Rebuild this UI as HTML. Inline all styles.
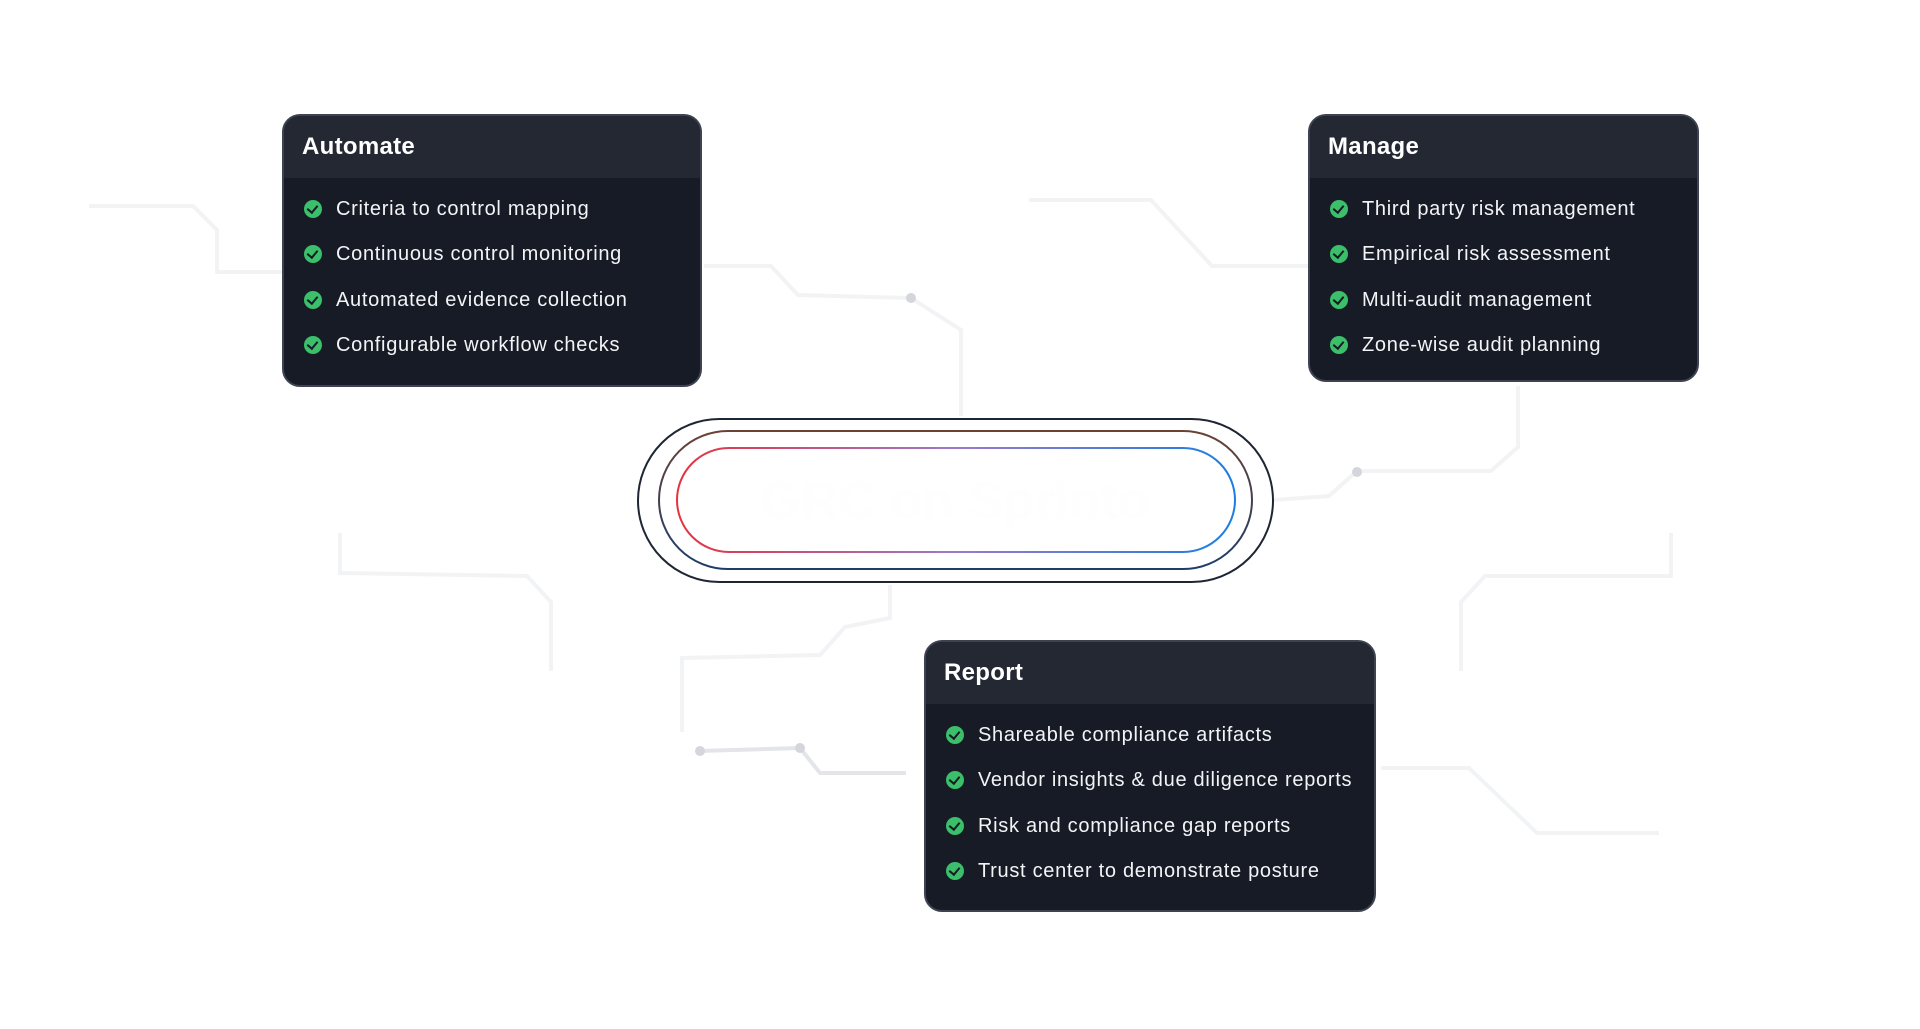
<!DOCTYPE html>
<html><head><meta charset="utf-8"><style>
body{margin:0;width:1920px;height:1029px;background:#fff;position:relative;overflow:hidden;font-family:"Liberation Sans",sans-serif}
.card{position:absolute;background:#161b26;border:2px solid #3d4350;border-radius:18px;overflow:hidden;box-sizing:border-box;color:#fff}
.hd{height:62px;background:#232833;font-size:24px;font-weight:bold;padding-left:18px;line-height:62px;letter-spacing:0.3px}
.it{position:absolute;left:20px;font-size:20px;letter-spacing:0.7px;line-height:22px;white-space:nowrap;color:#f3f4f6}
.it i{display:inline-block;width:18px;height:18px;border-radius:50%;background:#3bbf6a;vertical-align:-3px;margin-right:14px;position:relative}
.it i:after{content:"";position:absolute;left:5px;top:3px;width:5px;height:8px;border:solid #161b26;border-width:0 2.5px 2.5px 0;transform:rotate(40deg)}
svg{position:absolute;left:0;top:0}
</style></head><body>
<svg width="1920" height="1029">
<g fill="none" stroke="#f2f3f5" stroke-width="4">
<polyline points="89,206 193,206 217,230 217,272 282,272"/>
<polyline points="704,266 771,266 798,295 911,298 961,330 961,416"/>
<polyline points="1029,200 1151,200 1212,266 1308,266"/>
<polyline points="1518,386 1518,447 1491,471 1357,471 1329,496 1273,500"/>
<polyline points="340,533 340,573 527,576 551,602 551,671"/>
<polyline points="890,585 890,618 845,627 820,655 682,658 682,732"/>
<polyline points="1671,533 1671,576 1485,576 1461,602 1461,671"/>
<polyline points="1381,768 1469,768 1537,833 1659,833"/>
</g>
<polyline points="700,751 800,748 820,773 906,773" fill="none" stroke="#e3e5e9" stroke-width="4"/>
<g fill="#d4d6db"><circle cx="911" cy="298" r="5"/><circle cx="1357" cy="472" r="5"/><circle cx="700" cy="751" r="5"/><circle cx="800" cy="748" r="5"/></g>
<defs>
<linearGradient id="g1" x1="0" x2="1"><stop offset="0" stop-color="#e5323f"/><stop offset="0.5" stop-color="#9a7ac8"/><stop offset="1" stop-color="#1a7ee0"/></linearGradient>
<linearGradient id="g2" x1="0" y1="0" x2="0" y2="1"><stop offset="0" stop-color="#6b4236"/><stop offset="1" stop-color="#1c3e6a"/></linearGradient>
</defs>
<rect x="638" y="419" width="635" height="163" rx="81.5" fill="#fff" stroke="#1e2533" stroke-width="2"/>
<rect x="659" y="431" width="593" height="138" rx="69" fill="none" stroke="url(#g2)" stroke-width="2"/>
<rect x="677" y="448" width="558" height="104" rx="52" fill="none" stroke="url(#g1)" stroke-width="2"/>
<text x="955" y="518" text-anchor="middle" font-family="Liberation Sans" font-weight="bold" font-size="52" fill="#fefefe">GRC on Sprinto</text>
</svg>
<div class="card" style="left:282px;top:114px;width:420px;height:273px">
<div class="hd">Automate</div>
<div class="it" style="top:82px"><i></i>Criteria to control mapping</div>
<div class="it" style="top:127px"><i></i>Continuous control monitoring</div>
<div class="it" style="top:173px"><i></i>Automated evidence collection</div>
<div class="it" style="top:218px"><i></i>Configurable workflow checks</div>
</div>
<div class="card" style="left:1308px;top:114px;width:391px;height:268px">
<div class="hd">Manage</div>
<div class="it" style="top:82px"><i></i>Third party risk management</div>
<div class="it" style="top:127px"><i></i>Empirical risk assessment</div>
<div class="it" style="top:173px"><i></i>Multi-audit management</div>
<div class="it" style="top:218px"><i></i>Zone-wise audit planning</div>
</div>
<div class="card" style="left:924px;top:640px;width:452px;height:272px">
<div class="hd">Report</div>
<div class="it" style="top:82px"><i></i>Shareable compliance artifacts</div>
<div class="it" style="top:127px"><i></i>Vendor insights &amp; due diligence reports</div>
<div class="it" style="top:173px"><i></i>Risk and compliance gap reports</div>
<div class="it" style="top:218px"><i></i>Trust center to demonstrate posture</div>
</div>
</body></html>
